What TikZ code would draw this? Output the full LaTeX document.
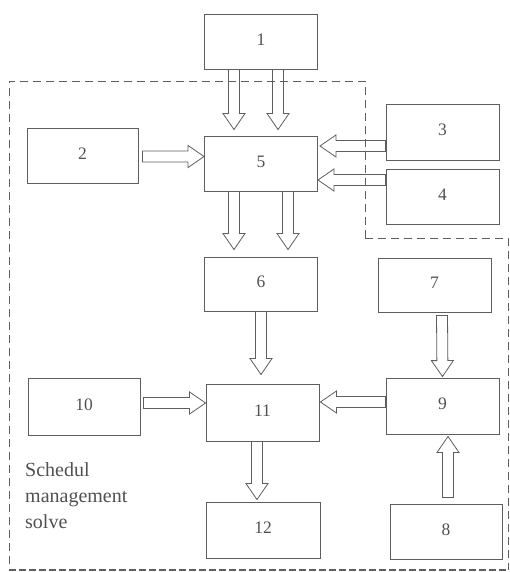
\documentclass[tikz,border=0pt]{standalone}
\usepackage{fontspec}
\setmainfont{Liberation Serif}
\usetikzlibrary{calc}
\definecolor{linec}{HTML}{5E5E5E}
\definecolor{textc}{HTML}{505050}
\tikzset{
  box/.style={draw=linec, line width=0.9pt, minimum width=113pt, minimum height=55pt, inner sep=0pt, text=textc, font=\fontsize{17.5}{20}\selectfont},
  blk/.style={draw=linec, line width=0.8pt, line join=miter,
    to path={let \p1=(\tikztostart), \p2=(\tikztotarget), \p3=($(\p2)!16pt!(\p1)$) in
      ($(\p1)!5.5pt!90:(\p2)$) -- ($(\p3)!5.5pt!-90:(\p1)$) -- ($(\p3)!11pt!-90:(\p1)$) -- (\p2)
      -- ($(\p3)!11pt!90:(\p1)$) -- ($(\p3)!5.5pt!90:(\p1)$) -- ($(\p1)!5.5pt!-90:(\p2)$) -- cycle}},
  bound/.style={draw=linec, line width=0.9pt, dash pattern=on 8pt off 5pt}
}
\newcommand{\lbl}[1]{\raisebox{4pt}{#1}}
\begin{document}
\begin{tikzpicture}[x=1pt,y=-1pt]
\useasboundingbox (0,0) rectangle (510,572);
% boundary
\draw[bound] (365,238) -- (365,81) -- (9,81) -- (9,570);
\draw[bound] (365,238) -- (508,238) -- (508,570);
\draw[draw=linec, line width=1.6pt, dash pattern=on 7pt off 3pt] (9,570) -- (508,570);
% boxes
\node[box] (n1) at (261,41.5) {\lbl{1}};
\node[box] (n5) at (261,163.5) {\lbl{5}};
\node[box, minimum width=111pt] (n2) at (82.5,155.5) {\lbl{2}};
\node[box, minimum height=56pt] (n3) at (442.5,132) {\lbl{3}};
\node[box] (n4) at (442.5,196.5) {\lbl{4}};
\node[box, minimum height=54pt] (n6) at (261,284) {\lbl{6}};
\node[box, minimum height=54pt] (n7) at (434.5,285) {\lbl{7}};
\node[box, minimum width=112pt, minimum height=57pt] (n10) at (84,406.5) {\lbl{10}};
\node[box, minimum height=57pt] (n11) at (262.5,412.5) {\lbl{11}};
\node[box, minimum height=56pt] (n9) at (442.5,406) {\lbl{9}};
\node[box, minimum width=114pt, minimum height=56pt] (n12) at (263,530) {\lbl{12}};
\node[box, minimum width=112pt] (n8) at (446,531.5) {\lbl{8}};
% label
\node[anchor=north west, align=left, text=textc, inner sep=0pt,
      font=\fontsize{20}{26}\selectfont] (lab) at (25,462) {Schedul\\management\\solve};
% arrow end points
\coordinate (a1s) at ($(n1.south)+(-27,0)$);
\coordinate (a1e) at ($(n5.north)+(-27,-6)$);
\coordinate (a2s) at ($(n1.south)+(17,0)$);
\coordinate (a2e) at ($(n5.north)+(17,-6)$);
\coordinate (b1s) at ($(n2.east)+(4,1)$);
\coordinate (b1e) at ($(n5.west)+(0,-7)$);
\coordinate (c1s) at ($(n3.west)+(0,14)$);
\coordinate (c1e) at ($(n5.east)+(2,-17.5)$);
\coordinate (d1s) at ($(n4.west)+(0,-16.5)$);
\coordinate (d1e) at ($(n5.east)+(0,16.5)$);
\coordinate (e1s) at ($(n5.south)+(-27,0)$);
\coordinate (e1e) at ($(n6.north)+(-27,-7)$);
\coordinate (e2s) at ($(n5.south)+(27,0)$);
\coordinate (e2e) at ($(n6.north)+(27,-7)$);
\coordinate (f1s) at (n6.south);
\coordinate (f1e) at ($(n11.north)+(-1.5,-9)$);
\coordinate (g1s) at ($(n7.south)+(7.5,3)$);
\coordinate (g1e) at ($(n9.north)+(0,-1)$);
\coordinate (h1s) at ($(n10.east)+(3,-3.5)$);
\coordinate (h1e) at ($(n11.west)+(0,-9.5)$);
\coordinate (i1s) at ($(n9.west)+(0,-4)$);
\coordinate (i1e) at ($(n11.east)+(1,-10.5)$);
\coordinate (j1s) at ($(n11.south)+(-5.5,0)$);
\coordinate (j1e) at ($(n12.north)+(-6,-2)$);
\coordinate (k1s) at ($(n8.north)+(2,-6)$);
\coordinate (k1e) at ($(n9.south)+(5.5,2)$);
% block arrows
\draw[blk] (a1s) to (a1e);
\draw[blk] (a2s) to (a2e);
\draw[blk] (b1s) to (b1e);
\draw[blk] (c1s) to (c1e);
\draw[blk] (d1s) to (d1e);
\draw[blk] (e1s) to (e1e);
\draw[blk] (e2s) to (e2e);
\draw[blk] (f1s) to (f1e);
\draw[blk] (g1s) to (g1e);
\draw[blk] (h1s) to (h1e);
\draw[blk] (i1s) to (i1e);
\draw[blk] (j1s) to (j1e);
\draw[blk] (k1s) to (k1e);
\end{tikzpicture}
\end{document}
